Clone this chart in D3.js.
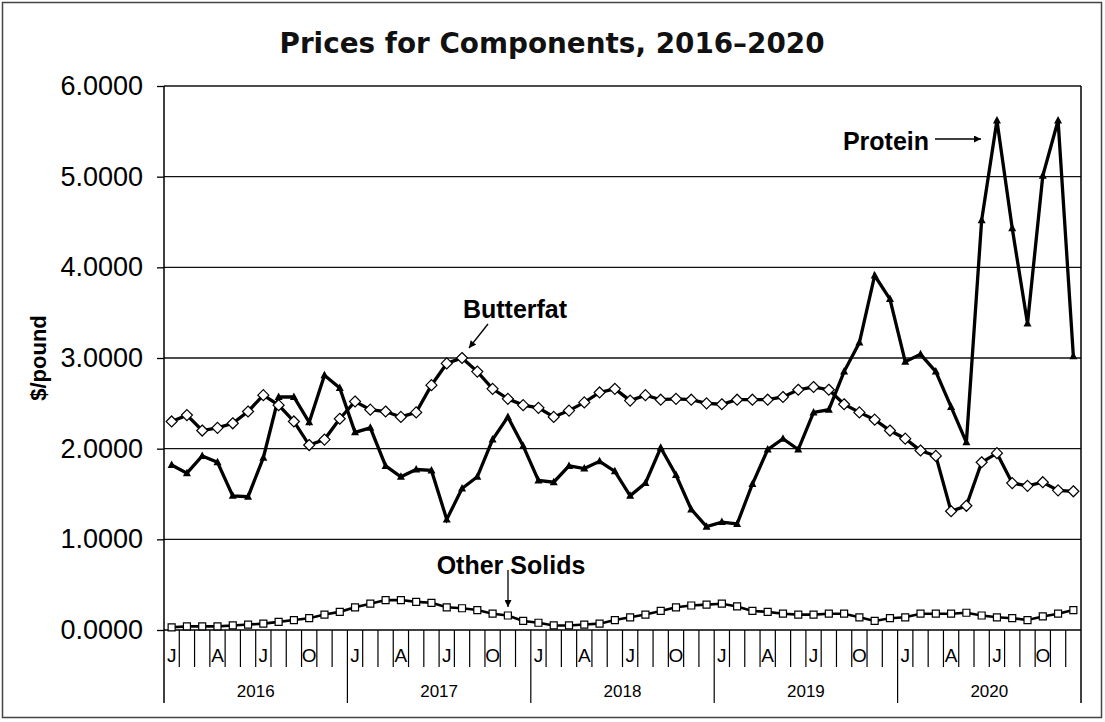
<!DOCTYPE html>
<html><head><meta charset="utf-8">
<script src="https://cdn.jsdelivr.net/npm/d3@7"></script>
<style>body{margin:0;background:#fff}svg{display:block}</style>
</head><body>
<script>
const years = ["2016","2017","2018","2019","2020"];
const monthLabels = ["J","","","A","","","J","","","O","",""];
const yTicks = [0,1,2,3,4,5,6];
const butterfat = [
 2.30,2.37,2.20,2.23,2.28,2.41,2.59,2.48,2.30,2.04,2.10,2.33,
 2.52,2.43,2.41,2.35,2.40,2.70,2.94,3.00,2.85,2.66,2.55,2.48,
 2.45,2.35,2.42,2.51,2.62,2.66,2.53,2.59,2.54,2.55,2.54,2.50,
 2.49,2.54,2.54,2.54,2.57,2.65,2.68,2.65,2.49,2.40,2.32,2.20,
 2.11,1.98,1.92,1.31,1.37,1.85,1.95,1.62,1.59,1.63,1.54,1.53];
const protein = [
 1.82,1.73,1.92,1.85,1.48,1.47,1.90,2.57,2.57,2.29,2.81,2.67,
 2.18,2.23,1.81,1.69,1.77,1.76,1.22,1.56,1.69,2.10,2.35,2.03,
 1.65,1.63,1.81,1.78,1.86,1.75,1.48,1.62,2.01,1.71,1.33,1.14,
 1.19,1.17,1.61,1.99,2.11,1.99,2.40,2.43,2.85,3.17,3.91,3.65,
 2.96,3.04,2.85,2.46,2.07,4.52,5.62,4.43,3.38,5.01,5.62,3.02];
const otherSolids = [
 0.03,0.04,0.04,0.04,0.05,0.06,0.07,0.09,0.11,0.13,0.17,0.20,
 0.25,0.29,0.33,0.33,0.31,0.30,0.25,0.24,0.22,0.18,0.16,0.10,
 0.08,0.05,0.05,0.06,0.07,0.11,0.14,0.17,0.21,0.25,0.27,0.28,
 0.29,0.26,0.21,0.20,0.18,0.17,0.17,0.18,0.18,0.14,0.10,0.13,
 0.14,0.18,0.18,0.18,0.19,0.16,0.14,0.13,0.11,0.15,0.18,0.22];

const W=1105,H=722;
const L=164,R=1081,T=86,B=630;
const nM = years.length*12;
const svg = d3.select("body").append("svg").attr("width",W).attr("height",H);
const x = d3.scaleLinear().domain([0,nM]).range([L,R]);
const y = d3.scaleLinear().domain([0,6]).range([B,T]);
const xc = i => x(i+0.5);

// outer border
svg.append("rect").attr("x",2.5).attr("y",2.5).attr("width",1099).attr("height",715)
  .attr("fill","none").attr("stroke","#444").attr("stroke-width",1.5);

// title
svg.append("text").attr("x",552).attr("y",53).attr("text-anchor","middle")
  .attr("font-family","'DejaVu Sans Condensed','DejaVu Sans',sans-serif").attr("font-weight","bold")
  .attr("font-size",29).attr("textLength",545).attr("lengthAdjust","spacingAndGlyphs")
  .attr("fill","#111")
  .text("Prices for Components, 2016\u20132020");

// grid lines
svg.append("g").selectAll("line").data(yTicks.filter(d=>d>0)).join("line")
  .attr("x1",L).attr("x2",R).attr("y1",d=>y(d)).attr("y2",d=>y(d))
  .attr("stroke","#111").attr("stroke-width",1.3);

// y axis
const yAxis = d3.axisLeft(y).tickValues(yTicks).tickSize(7).tickPadding(14)
  .tickFormat(d3.format(".4f"));
const gy = svg.append("g").attr("transform",`translate(${L},0)`).call(yAxis);
gy.select(".domain").remove();
gy.selectAll(".tick line").attr("stroke","#000").attr("stroke-width",1.3);
gy.selectAll(".tick text").attr("font-family","'Liberation Sans',Arial,sans-serif")
  .attr("font-size",27).attr("fill","#000");
svg.append("text").attr("transform","translate(46,358) rotate(-90)").attr("text-anchor","middle")
  .attr("font-family","'Liberation Sans',Arial,sans-serif").attr("font-weight","bold").attr("font-size",22)
  .text("$/pound");

// left axis line and right border
svg.append("line").attr("x1",L).attr("x2",L).attr("y1",T).attr("y2",703).attr("stroke","#000").attr("stroke-width",1.5);
svg.append("line").attr("x1",R).attr("x2",R).attr("y1",T).attr("y2",703).attr("stroke","#000").attr("stroke-width",1.5);
svg.append("line").attr("x1",L).attr("x2",R).attr("y1",B).attr("y2",B).attr("stroke","#000").attr("stroke-width",1.5);

// month separators
const bounds = d3.range(1,nM);
svg.append("g").selectAll("line").data(bounds).join("line")
  .attr("x1",d=>x(d)).attr("x2",d=>x(d)).attr("y1",B).attr("y2",d=>d%12===0?703:667)
  .attr("stroke","#000").attr("stroke-width",1.2);
// month labels
const mdata = d3.range(nM).map(i=>({i,lab:monthLabels[i%12]})).filter(d=>d.lab);
svg.append("g").selectAll("text").data(mdata).join("text")
  .attr("x",d=>xc(d.i)).attr("y",662).attr("text-anchor","middle")
  .attr("font-family","'Liberation Sans',Arial,sans-serif").attr("font-size",19)
  .text(d=>d.lab);
// year labels
svg.append("g").selectAll("text").data(years).join("text")
  .attr("x",(d,k)=>x(k*12+6)).attr("y",697).attr("text-anchor","middle")
  .attr("font-family","'Liberation Sans',Arial,sans-serif").attr("font-size",17)
  .text(d=>d);

// lines
const line = d3.line().x((d,i)=>xc(i)).y(d=>y(d));
function series(data, lw){
  svg.append("path").datum(data).attr("d",line).attr("fill","none")
    .attr("stroke","#000").attr("stroke-width",lw).attr("stroke-linejoin","miter");
}
series(otherSolids,2.6);
series(protein,3.3);
series(butterfat,3.3);

const g = svg.append("g");
g.selectAll("path.sq").data(otherSolids).join("path").attr("class","sq")
  .attr("transform",(d,i)=>`translate(${xc(i)},${y(d)})`)
  .attr("d","M-3.5,-3.5H3.5V3.5H-3.5Z").attr("fill","#fff").attr("stroke","#000").attr("stroke-width",1.2);
g.selectAll("path.tr").data(protein).join("path").attr("class","tr")
  .attr("transform",(d,i)=>`translate(${xc(i)},${y(d)})`)
  .attr("d","M0,-4.5L4,3L-4,3Z").attr("fill","#000");
g.selectAll("path.di").data(butterfat).join("path").attr("class","di")
  .attr("transform",(d,i)=>`translate(${xc(i)},${y(d)})`)
  .attr("d","M0,-5.5L5.5,0L0,5.5L-5.5,0Z").attr("fill","#fff").attr("stroke","#000").attr("stroke-width",1.2);

// annotations
const defs = svg.append("defs");
defs.append("marker").attr("id","ah").attr("viewBox","0 0 10 10").attr("refX",10).attr("refY",5)
  .attr("markerWidth",9).attr("markerHeight",7).attr("markerUnits","userSpaceOnUse").attr("orient","auto")
  .append("path").attr("d","M0,0L10,5L0,10Z").attr("fill","#000");
function ann(txt,tx,ty,x1,y1,x2,y2){
  svg.append("text").attr("x",tx).attr("y",ty).attr("text-anchor","middle")
    .attr("font-family","'Liberation Sans',Arial,sans-serif").attr("font-weight","bold").attr("font-size",25)
    .text(txt);
  svg.append("line").attr("x1",x1).attr("y1",y1).attr("x2",x2).attr("y2",y2)
    .attr("stroke","#000").attr("stroke-width",1.3).attr("marker-end","url(#ah)");
}
ann("Butterfat",515,318,488,324,469,348);
ann("Protein",886,150,935,139,981,139);
ann("Other Solids",511,574,508,570,508,607);
</script>
</body></html>
